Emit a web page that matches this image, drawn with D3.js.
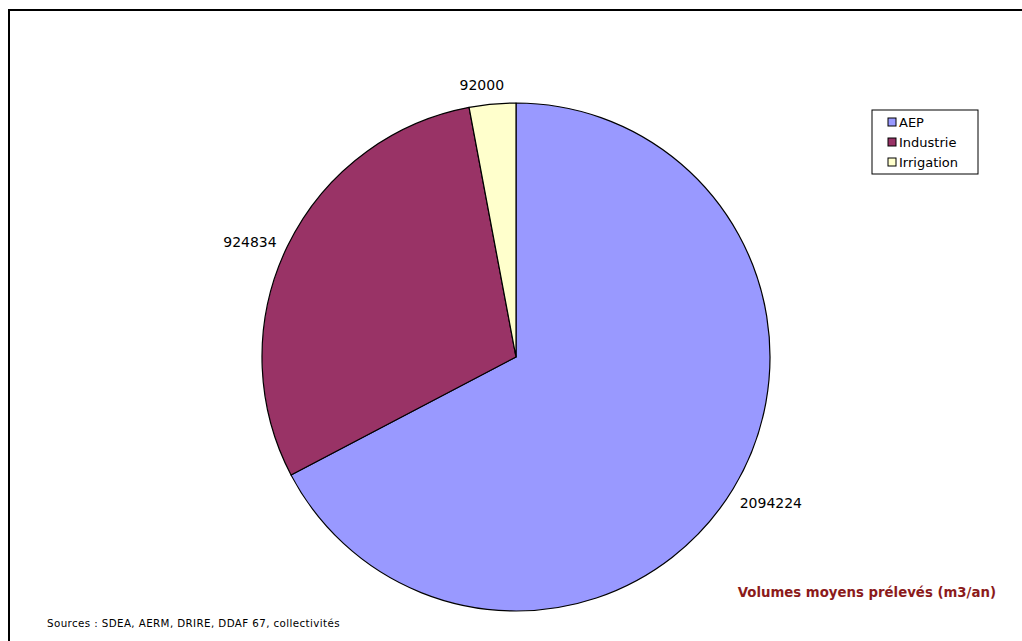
<!DOCTYPE html>
<html>
<head>
<meta charset="utf-8">
<script src="https://cdn.jsdelivr.net/npm/d3@7"></script>
<style>
  html, body { margin: 0; padding: 0; background: #fff; }
  svg { display: block; }
  text { font-family: "DejaVu Sans", Verdana, sans-serif; }
</style>
</head>
<body>
<svg id="chart" width="1022" height="641"></svg>
<script>
// Average water withdrawals by use (m3/year)
const categories = ["AEP", "Industrie", "Irrigation"];
const volumes = [2094224, 924834, 92000];
const colors = ["#9999FF", "#993366", "#FFFFCC"];

const title = "Volumes moyens prélevés (m3/an)";
const sources = "Sources : SDEA, AERM, DRIRE, DDAF 67, collectivités";

const svg = d3.select("#chart");
const W = 1022, H = 641;

// outer frame
svg.append("rect")
  .attr("x", 9).attr("y", 10)
  .attr("width", W + 20).attr("height", H + 20)
  .attr("fill", "#fff")
  .attr("stroke", "#000").attr("stroke-width", 2);

const cx = 516, cy = 357, r = 254;
const data = categories.map((c, i) => ({ name: c, value: volumes[i], color: colors[i] }));

const pie = d3.pie().sort(null).value(d => d.value);
const arc = d3.arc().innerRadius(0).outerRadius(r);
const arcs = pie(data);

const g = svg.append("g").attr("transform", `translate(${cx},${cy})`);
g.selectAll("path")
  .data(arcs)
  .join("path")
  .attr("d", arc)
  .attr("fill", d => d.data.color)
  .attr("stroke", "#000")
  .attr("stroke-width", 1.2)
  .attr("stroke-linejoin", "round");

// value labels: box edge touches a point just outside the rim,
// the box sliding around that point with the slice's mid angle
const labelR = r + 14;
const labels = g.selectAll("text.val")
  .data(arcs)
  .join("text")
  .attr("class", "val")
  .attr("font-size", 14)
  .attr("fill", "#000")
  .attr("text-anchor", "middle")
  .attr("dy", "0.35em")
  .text(d => d.data.value);

labels.each(function(d) {
  const w = this.getComputedTextLength();
  const h = 11;
  const mid = (d.startAngle + d.endAngle) / 2;
  const s = Math.sin(mid), c = Math.cos(mid);
  const px = labelR * s, py = -labelR * c;
  const a = Math.abs(s);
  d3.select(this)
    .attr("x", px + s * w / 2 - 8 * (1 - a))
    .attr("y", py - c * h / 2 + 5 * a);
});

// legend
const lg = svg.append("g").attr("transform", "translate(872,110)");
lg.append("rect")
  .attr("width", 106).attr("height", 64)
  .attr("fill", "#fff").attr("stroke", "#000").attr("stroke-width", 1);
data.forEach((d, i) => {
  const y = 12 + i * 20;
  lg.append("rect")
    .attr("x", 16).attr("y", y - 4).attr("width", 8).attr("height", 8)
    .attr("fill", d.color).attr("stroke", "#000").attr("stroke-width", 1);
  lg.append("text")
    .attr("x", 27).attr("y", y).attr("dy", "0.35em")
    .attr("font-size", 13).text(d.name);
});

// caption
svg.append("text")
  .attr("x", 996).attr("y", 597)
  .attr("text-anchor", "end")
  .attr("font-size", 13.3).attr("font-weight", "bold")
  .attr("fill", "#8B1A1A")
  .text(title);

svg.append("text")
  .attr("x", 47).attr("y", 627)
  .attr("font-size", 10.3)
  .attr("letter-spacing", 0.4)
  .attr("fill", "#000")
  .text(sources);
</script>
</body>
</html>
